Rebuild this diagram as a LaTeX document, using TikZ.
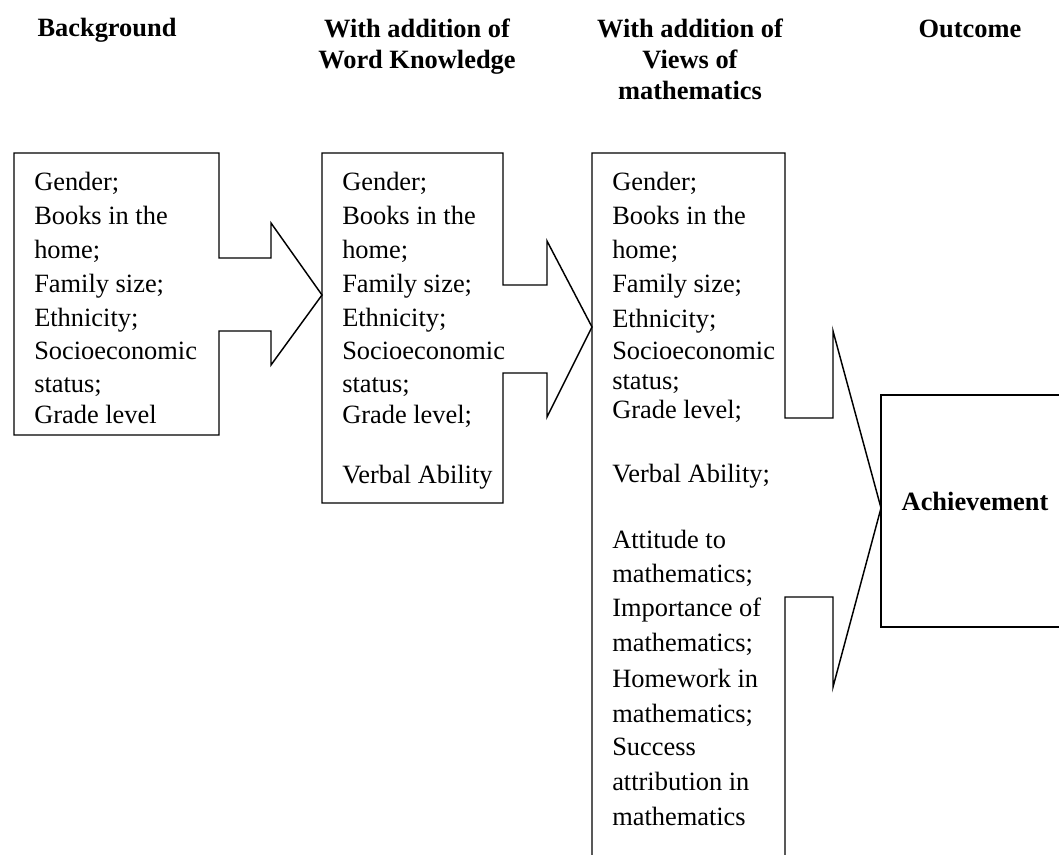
\documentclass[tikz,border=0pt]{standalone}
\usepackage{fontspec}
\setmainfont{Liberation Serif}
\begin{document}
\begin{tikzpicture}[x=0.75pt,y=-0.75pt,
  outline/.style={draw=black,line width=1.1pt,line join=miter},
  item/.style={anchor=base west,inner sep=0pt,font=\fontsize{19.8pt}{24.75pt}\selectfont},
  head/.style={anchor=base,inner sep=0pt,font=\fontsize{19.8pt}{24.75pt}\selectfont\bfseries}]
\useasboundingbox (0,0) rectangle (1059,855);
\clip (0,0) rectangle (1059,855);
% headers
\node[head] (h1) at (107,37) {Background};
\node[head] (h2a) at (417,38) {With addition of};
\node[head] (h2b) at (417,69) {Word Knowledge};
\node[head] (h3a) at (690,38) {With addition of};
\node[head] (h3b) at (690,69) {Views of};
\node[head] (h3c) at (690,100) {mathematics};
\node[head] (h4) at (970,38) {Outcome};
% box 1 with arrow
\coordinate (b1tip) at (322,295);
\draw[outline] (14,153) -- (219,153) -- (219,258) -- (271,258) -- (271,223) -- (b1tip)
  -- (271,365) -- (271,331) -- (219,331) -- (219,435) -- (14,435) -- cycle;
% box 2 with arrow
\coordinate (b2tip) at (592,327);
\draw[outline] (322,153) -- (503,153) -- (503,285) -- (547,285) -- (547,241) -- (b2tip)
  -- (547,417) -- (547,373) -- (503,373) -- (503,503) -- (322,503) -- cycle;
% box 3 with arrow (runs off the bottom)
\coordinate (b3tip) at (881,508);
\draw[outline] (592,880) -- (592,153) -- (785,153) -- (785,418) -- (833,418) -- (833,331) -- (b3tip)
  -- (833,687) -- (833,597) -- (785,597) -- (785,880);
% outcome box
\draw[outline] (881,395) rectangle (1069,627);
\node[head] (ach) at (975,510) {Achievement};
% box 1 text
\foreach \t/\y [count=\i] in {Gender;/191, Books in the/225, home;/259, Family size;/293,
  Ethnicity;/326, Socioeconomic/359, status;/392, Grade level/423}
  \node[item] (a\i) at (34,\y) {\t};
% box 2 text
\foreach \t/\y [count=\i] in {Gender;/191, Books in the/225, home;/259, Family size;/293,
  Ethnicity;/326, Socioeconomic/359, status;/392, Grade level;/423, Verbal Ability/483}
  \node[item] (b\i) at (342,\y) {\t};
% box 3 text
\foreach \t/\y [count=\i] in {Gender;/191, Books in the/225, home;/259, Family size;/293,
  Ethnicity;/327, Socioeconomic/359, status;/389, Grade level;/418, Verbal Ability;/482,
  Attitude to/548, mathematics;/582, Importance of/616, mathematics;/651, Homework in/687,
  mathematics;/722, Success/755, attribution in/790, mathematics/825}
  \node[item] (c\i) at (612,\y) {\t};
\end{tikzpicture}
\end{document}
